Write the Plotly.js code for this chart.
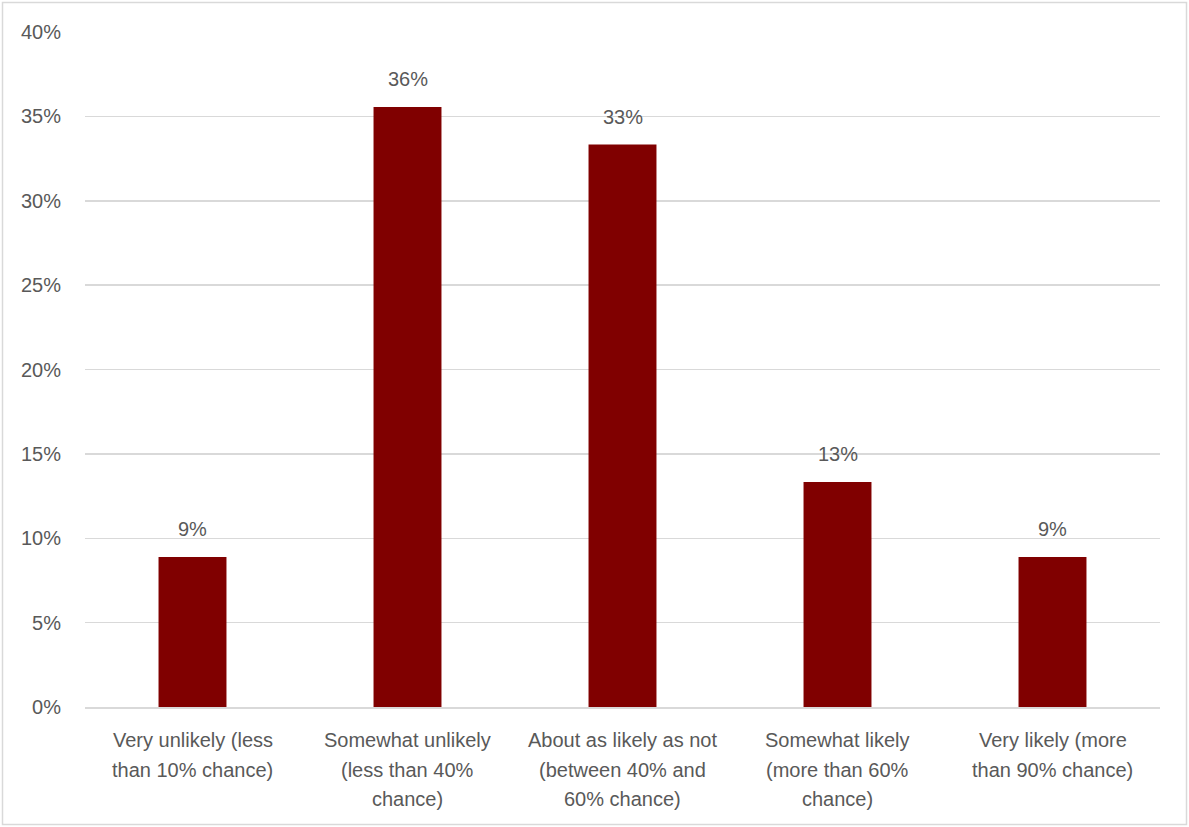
<!DOCTYPE html>
<html>
<head>
<meta charset="utf-8">
<script src="https://cdn.plot.ly/plotly-3.0.1.min.js"></script>
<style>html,body{margin:0;padding:0;background:#fff;}#chart{width:1189px;height:827px;}</style>
</head>
<body>
<div id="chart"></div>
<script>
const categories = [
  "Very unlikely (less<br>than 10% chance)",
  "Somewhat unlikely<br>(less than 40%<br>chance)",
  "About as likely as not<br>(between 40% and<br>60% chance)",
  "Somewhat likely<br>(more than 60%<br>chance)",
  "Very likely (more<br>than 90% chance)"
];
const values = [0.0889, 0.3556, 0.3333, 0.1333, 0.0889];
const valueLabels = ["9%", "36%", "33%", "13%", "9%"];
const yTickVals = [0, 0.05, 0.10, 0.15, 0.20, 0.25, 0.30, 0.35, 0.40];

const FONT = 'Liberation Sans, Arial, sans-serif';
const GREY = '#595959';
const L = 85, R = 29, T = 32, B = 120, W = 1189, H = 827;
const pw = W - L - R, ph = H - T - B;
const px = v => (v - L) / pw;
const py = v => (H - B - v) / ph;

const trace = {
  type: 'bar',
  x: categories,
  y: values,
  marker: {color: '#800000'},
  hoverinfo: 'none'
};

const annotations = [];
categories.forEach((c, i) => {
  annotations.push({
    x: c, y: values[i], xref: 'x', yref: 'y',
    text: valueLabels[i], showarrow: false,
    yanchor: 'bottom', yshift: 15,
    font: {family: FONT, size: 20, color: GREY}
  });
  c.split('<br>').forEach((line, j) => {
    annotations.push({
      x: c, y: 0, xref: 'x', yref: 'paper',
      text: line, showarrow: false,
      yanchor: 'middle', yshift: -(33 + j * 29.5),
      font: {family: FONT, size: 20, color: GREY}
    });
  });
});

const layout = {
  width: W, height: H,
  margin: {l: L, r: R, t: T, b: B, pad: 0},
  paper_bgcolor: '#ffffff',
  plot_bgcolor: '#ffffff',
  bargap: 0.684,
  showlegend: false,
  font: {family: FONT, color: GREY},
  xaxis: {
    type: 'category',
    showticklabels: false,
    showgrid: false,
    showline: true,
    linecolor: '#d9d9d9',
    linewidth: 1.5,
    ticks: '',
    fixedrange: true
  },
  yaxis: {
    range: [0, 0.40],
    tickvals: yTickVals,
    tickformat: '.0%',
    tickfont: {size: 20, color: GREY},
    showgrid: true,
    gridcolor: '#d9d9d9',
    gridwidth: 1.5,
    zeroline: false,
    showline: false,
    ticks: 'outside',
    ticklen: 19,
    tickcolor: 'rgba(0,0,0,0)',
    fixedrange: true
  },
  annotations: annotations,
  shapes: [{
    type: 'rect', xref: 'paper', yref: 'paper', layer: 'below',
    x0: px(2.5), x1: px(1186.5), y0: py(824.5), y1: py(2.5),
    line: {color: '#d9d9d9', width: 1.5}, fillcolor: 'rgba(0,0,0,0)'
  }]
};

Plotly.newPlot('chart', [trace], layout, {displayModeBar: false, staticPlot: true});
</script>
</body>
</html>
